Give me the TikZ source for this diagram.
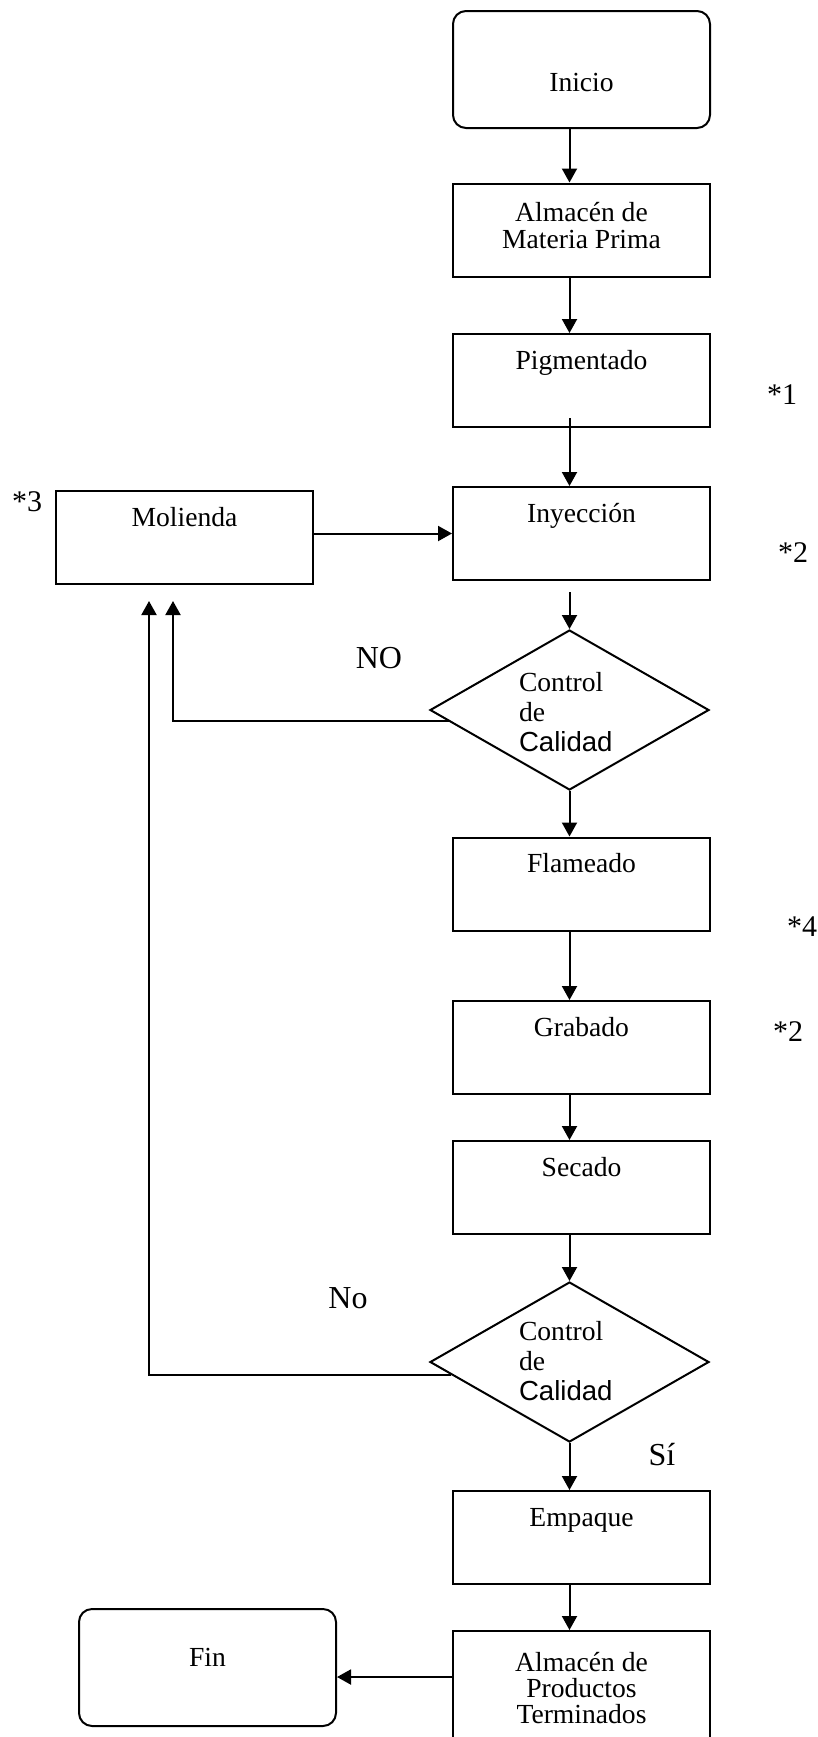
\documentclass[tikz,border=0pt]{standalone}
\usepackage{fontspec}
\setmainfont{Liberation Serif}
\newfontfamily\calfont{Liberation Sans}
\usepackage{tikz}
\usetikzlibrary{positioning,calc,shapes.geometric,arrows.meta}

\begin{document}
\begin{tikzpicture}[
x=0.5pt, y=-0.5pt,
line width=1pt,
>={Triangle[length=7pt,width=7.5pt]},
font=\fontsize{13.8pt}{15pt}\selectfont,
procbox/.style={rectangle, draw, minimum width=128.5pt, inner sep=0pt, text height=17.5pt, text depth=29pt},
termbox/.style={procbox, rounded corners=6.5pt},
decision/.style={diamond, draw, minimum width=139.5pt, minimum height=80pt, inner sep=0pt},
answer/.style={font=\fontsize{16pt}{18pt}\selectfont, inner sep=0pt},
note/.style={font=\fontsize{15pt}{17pt}\selectfont, inner sep=0pt}
]
	\useasboundingbox (0,0) rectangle (818,1737);

	\node at (581.5,69.5) [termbox, text height=40pt, text depth=18.5pt] (inicio) {Inicio};
	\node at (581.5,230) [procbox] (almmp) {};
	\node at (581.5,225.5) [align=center, inner sep=0pt, font=\fontsize{13.8pt}{13.5pt}\selectfont] (almmptxt) {Almacén de\\Materia Prima};
	\node at (581.5,380.5) [procbox] (pig) {Pigmentado};
	\node at (581.5,533.5) [procbox] (iny) {Inyección};
	\node at (184.5,537.5) [procbox] (mol) {Molienda};

	\node at (569.5,710) [decision] (dia1) {};
	\node at (518,712) [anchor=west, align=left, inner sep=0pt, font=\fontsize{13.8pt}{14.8pt}\selectfont] (dia1txt) {Control\\de\\{\calfont Calidad}};

	\node at (581.5,884) [procbox] (flam) {Flameado};
	\node at (581.5,1047.5) [procbox] (grab) {Grabado};
	\node at (581.5,1187.5) [procbox] (sec) {Secado};

	\node at (569.5,1362) [decision] (dia2) {};
	\node at (518,1361) [anchor=west, align=left, inner sep=0pt, font=\fontsize{13.8pt}{14.8pt}\selectfont] (dia2txt) {Control\\de\\{\calfont Calidad}};

	\node at (581.5,1537.5) [procbox] (emp) {Empaque};
	% sale por abajo de la hoja
	\node at (581.5,1691) [procbox, text height=30pt, text depth=30pt] (almpt) {};
	\node at (581.5,1688) [align=center, inner sep=0pt, font=\fontsize{13.8pt}{13pt}\selectfont] (almpttxt) {Almacén de\\Productos\\Terminados};
	\node at (207.5,1667.5) [termbox, text height=28.5pt, text depth=30pt] (fin) {Fin};

	% main line
	\draw [->] (inicio.south -| dia1) -- (almmp.north -| dia1);
	\draw [->] (almmp.south -| dia1) -- (pig.north -| dia1);
	\draw [->] ($(pig.south -| dia1)+(0,-10)$) -- (iny.north -| dia1);
	\draw [->] ($(iny.south -| dia1)+(0,11)$) -- (dia1.north);
	\draw [->] (mol.east |- iny) -- (iny.west);
	\draw [->] (dia1.south) -- (flam.north -| dia1);
	\draw [->] (flam.south -| dia1) -- (grab.north -| dia1);
	\draw [->] (grab.south -| dia1) -- (sec.north -| dia1);
	\draw [->] (sec.south -| dia2) -- (dia2.north);
	\draw [->] (dia2.south) -- (emp.north -| dia2);
	\draw [->] (emp.south -| dia2) -- (almpt.north -| dia2);
	\coordinate (toend) at ($(almpt.north west)+(0,47)$);
	\draw [->] (toend) -- (toend -| fin.east);

	% rechazo a molienda
	\coordinate (back1) at ($(mol.south)+(-11.5,16)$);
	\coordinate (back2) at ($(mol.south)+(-35.5,16)$);
	\draw [->] ($(dia1.west)!0.14!(dia1.south)$) -| (back1);
	\draw [->] ($(dia2.west)!0.16!(dia2.south)$) -| (back2);

	\node at (379,658) [answer] (no1) {NO};
	\node at (348,1298) [answer] (no2) {No};
	\node at (662,1455) [answer] (si) {Sí};

	\node at (782,395) [note] (ast1) {*1};
	\node at (793,553) [note] (ast2a) {*2};
	\node at (27,502) [note] (ast3) {*3};
	\node at (802,927) [note] (ast4) {*4};
	\node at (788,1032) [note] (ast2b) {*2};

\end{tikzpicture}
\end{document}
